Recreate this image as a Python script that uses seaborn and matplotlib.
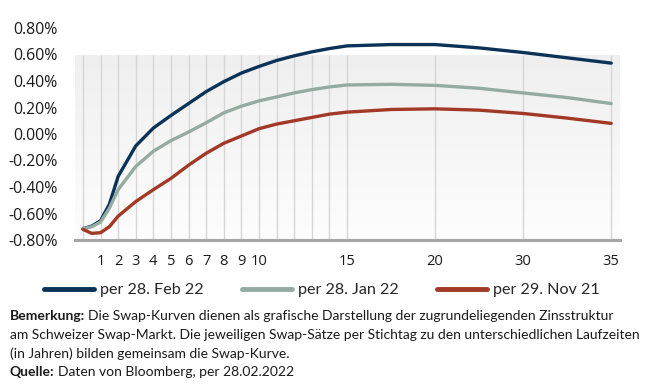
import matplotlib
matplotlib.use("Agg")
import matplotlib.pyplot as plt
import numpy as np
import pandas as pd
import seaborn as sns
from matplotlib.ticker import FuncFormatter
from matplotlib.colors import LinearSegmentedColormap
from matplotlib.transforms import blended_transform_factory

# ---- data ----
maturities = [0, 0.5, 1, 1.5, 2, 3, 4, 5, 6, 7, 8, 9, 10, 11, 12, 13, 14, 15, 17.5, 20, 25, 30, 32.5, 35]
feb22 = [-0.715, -0.695, -0.655, -0.53, -0.32, -0.09, 0.045, 0.14, 0.23, 0.32, 0.395, 0.46, 0.51,
         0.555, 0.59, 0.62, 0.645, 0.665, 0.675, 0.675, 0.65, 0.615, 0.575, 0.535]
jan22 = [-0.715, -0.70, -0.665, -0.56, -0.42, -0.245, -0.13, -0.05, 0.015, 0.085, 0.16, 0.21, 0.25,
         0.28, 0.31, 0.335, 0.355, 0.37, 0.375, 0.367, 0.345, 0.31, 0.275, 0.23]
nov21 = [-0.72, -0.75, -0.745, -0.70, -0.62, -0.51, -0.42, -0.335, -0.235, -0.145, -0.07, -0.015, 0.04,
         0.075, 0.10, 0.125, 0.15, 0.165, 0.185, 0.19, 0.18, 0.155, 0.12, 0.08]
series_names = ["per 28. Feb 22", "per 28. Jan 22", "per 29. Nov 21"]
tick_values = [1, 2, 3, 4, 5, 6, 7, 8, 9, 10, 15, 20, 30, 35]
grid_years = [0, 1, 2, 3, 4, 5, 6, 7, 8, 9, 10, 11, 12, 13, 14, 15, 20, 30, 35]
y_ticks = [-0.8, -0.6, -0.4, -0.2, 0.0, 0.2, 0.4, 0.6, 0.8]
colors = ["#0b3257", "#93aba1", "#a23826"]

note1_bold = "Bemerkung:"
note1 = "Die Swap-Kurven dienen als grafische Darstellung der zugrundeliegenden Zinsstruktur"
note2 = "am Schweizer Swap-Markt. Die jeweiligen Swap-Sätze per Stichtag zu den unterschiedlichen Laufzeiten"
note3 = "(in Jahren) bilden gemeinsam die Swap-Kurve."
note4_bold = "Quelle:"
note4 = "Daten von Bloomberg, per 28.02.2022"

df = pd.DataFrame({
    "Laufzeit": maturities * 3,
    "Satz": feb22 + jan22 + nov21,
    "Kurve": sum([[n] * len(maturities) for n in series_names], []),
})

sns.set_theme(style="white")
plt.rcParams["font.family"] = ["Open Sans", "DejaVu Sans"]
sans = ["Open Sans", "DejaVu Sans"]
cond = ["Lato", "DejaVu Sans"]

fig = plt.figure(figsize=(6.68, 3.92), dpi=100)
r = fig.canvas.get_renderer()

def fit_size(text, family, target_px, weight="normal", base=10):
    t = fig.text(0, 0, text, fontsize=base, family=family, fontweight=weight)
    w = t.get_window_extent(renderer=r).width
    t.remove()
    return base * target_px / w

ax = fig.add_axes([75 / 668, 152 / 392, 545 / 668, 212 / 392])

# ordinal-like x scale: 10,15,20,30,35 equally spaced
def fwd(x):
    x = np.asarray(x, dtype=float)
    return np.where(x <= 20, x, np.where(x <= 30, 20 + (x - 20) / 2, 25 + (x - 30)))

def inv(x):
    x = np.asarray(x, dtype=float)
    return np.where(x <= 20, x, np.where(x <= 25, 20 + (x - 20) * 2, 30 + (x - 25)))

ax.set_xscale("function", functions=(fwd, inv))
ax.set_xlim(-0.45, 35.5)
ax.set_ylim(-0.8, 0.8)

# background gradient box (upper part of the plot stays white)
grad = np.linspace(1, 0, 256).reshape(-1, 1)
cmap = LinearSegmentedColormap.from_list("bg", ["#fdfdfd", "#efefef"])
ax.imshow(grad, cmap=cmap, aspect="auto", extent=[0, 1, -0.8, 0.6],
          transform=blended_transform_factory(ax.transAxes, ax.transData), zorder=0)
ax.vlines(grid_years, -0.8, 0.6, color="#d6d6d6", linewidth=1, zorder=1)

sns.lineplot(data=df, x="Laufzeit", y="Satz", hue="Kurve", palette=colors, linewidth=2.4,
             ax=ax, legend=True, zorder=3)

ax.set_xlim(-0.45, 35.5)
ax.set_ylim(-0.8, 0.8)
ax.set_xticks(tick_values)
xt_size = fit_size("10", sans, 17)
ax.set_xticklabels([str(t) for t in tick_values], family=sans, fontsize=xt_size)
ax.set_yticks(y_ticks)
ax.yaxis.set_major_formatter(FuncFormatter(lambda v, p: f"{v:.2f}%"))
yt_size = fit_size("0.80%", sans, 45)
for lab in ax.get_yticklabels():
    lab.set_fontsize(yt_size)
    lab.set_color("#1a1a1a")
ax.tick_params(axis="both", length=0)
ax.tick_params(axis="x", pad=10, colors="#1a1a1a")
ax.tick_params(axis="y", pad=12.5)
ax.grid(False)
for s in ["top", "right", "left"]:
    ax.spines[s].set_visible(False)
ax.spines["bottom"].set_color("#a6a6a6")
ax.spines["bottom"].set_linewidth(2.2)
ax.spines["bottom"].set_zorder(4)
ax.set_xlabel("")
ax.set_ylabel("")

handles, labels = ax.get_legend_handles_labels()
ax.get_legend().remove()
leg_size = fit_size(series_names[0], cond, 104)
fpx = leg_size * 100 / 72
leg = fig.legend(handles, labels, loc="center", bbox_to_anchor=(322 / 668, 1 - 290 / 392), ncol=3,
                 frameon=False, handlelength=50 / fpx, handletextpad=6 / fpx, columnspacing=38 / fpx,
                 prop={"family": cond, "size": leg_size})
for h in leg.legend_handles:
    h.set_linewidth(3.5)

# notes
note_size = fit_size(note2, cond, 631)
fig.canvas.draw()

def rich(x, y, bold, rest):
    t = fig.text(x, y, bold, fontsize=note_size, fontweight="bold", family=cond, color="#1a1a1a", va="center")
    bb = t.get_window_extent(renderer=r)
    if rest:
        fig.text(bb.x1 / fig.bbox.width + 3 / 668, y, rest, fontsize=note_size, family=cond,
                 color="#1a1a1a", va="center")

rich(10 / 668, 1 - 316 / 392, note1_bold, note1)
fig.text(10 / 668, 1 - 335 / 392, note2, fontsize=note_size, family=cond, color="#1a1a1a", va="center")
fig.text(10 / 668, 1 - 354 / 392, note3, fontsize=note_size, family=cond, color="#1a1a1a", va="center")
rich(10 / 668, 1 - 372 / 392, note4_bold, note4)

fig.savefig("out.png", dpi=100)
